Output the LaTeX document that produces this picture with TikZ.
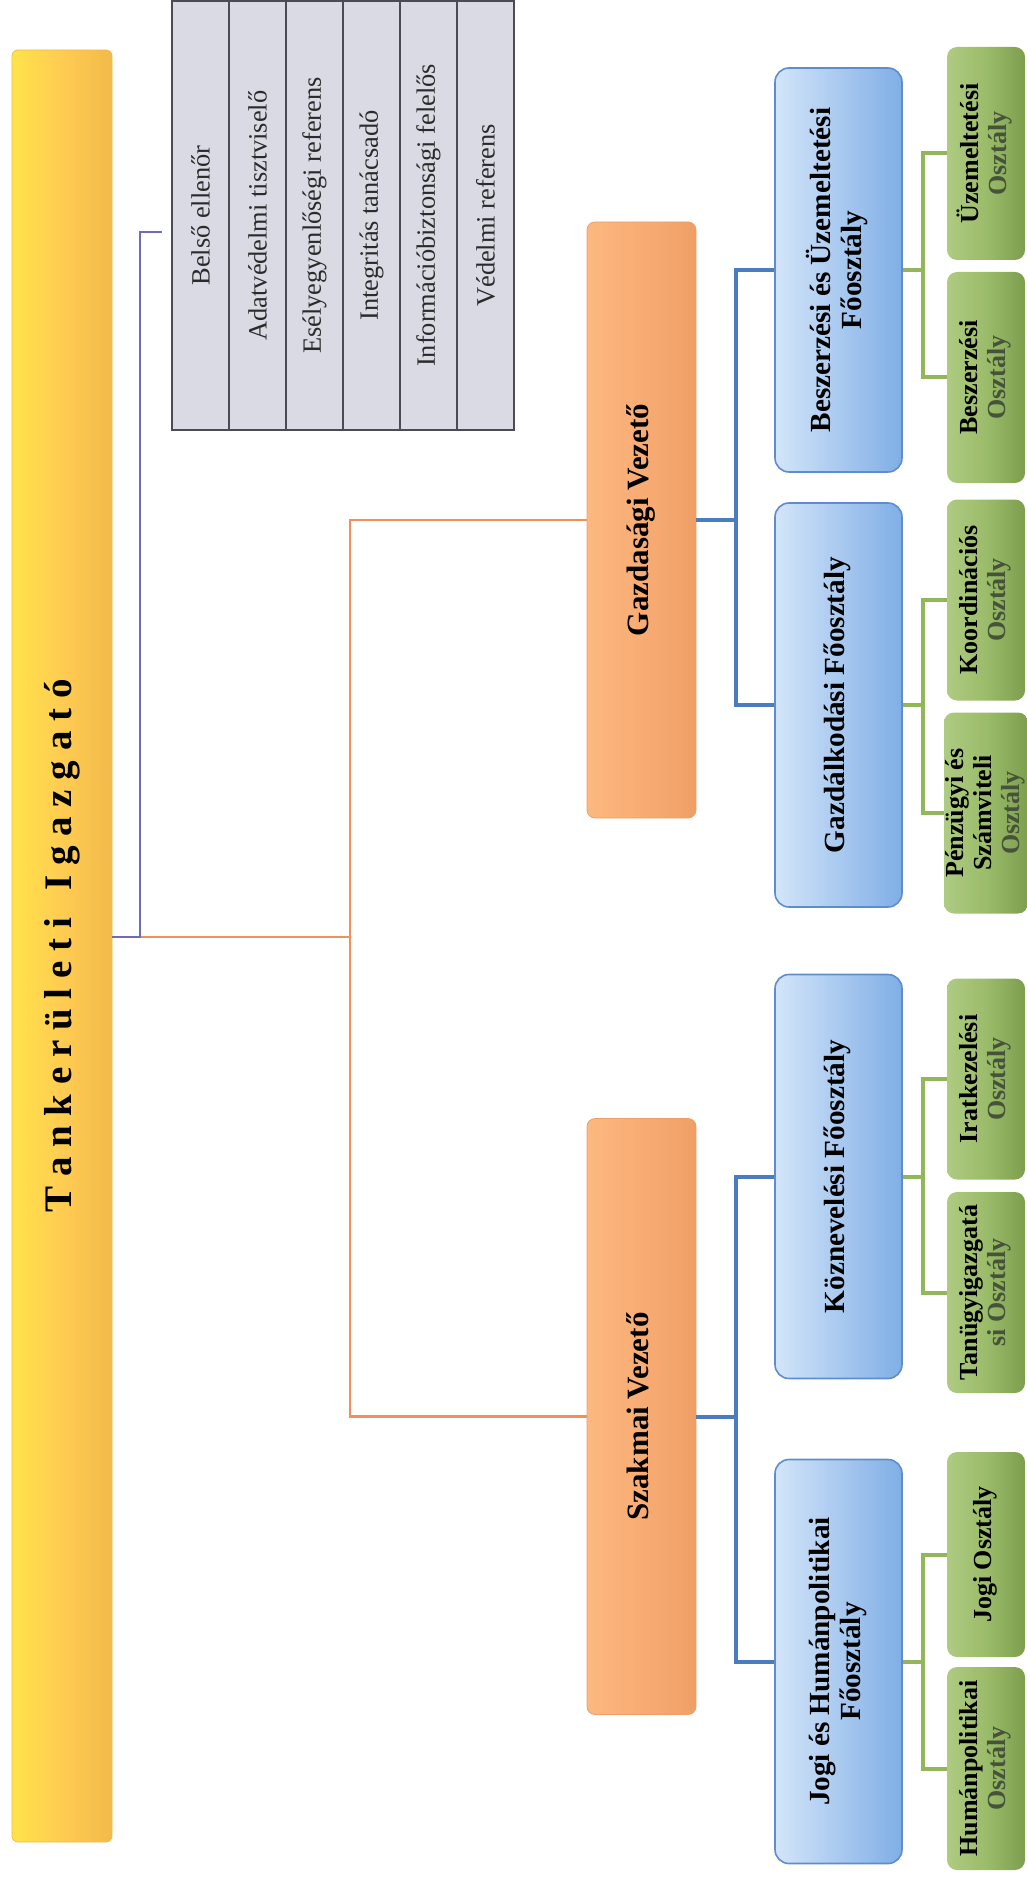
\documentclass[tikz,border=0pt]{standalone}
\usepackage{fontspec}
\setmainfont{Liberation Serif}
\usepackage{graphicx}

\definecolor{sargaBal}{HTML}{FFE34A}
\definecolor{sargaKozep}{HTML}{FFCC52}
\definecolor{sargaJobb}{HTML}{F2BA4A}
\definecolor{cellaszin}{HTML}{DADAE4}
\definecolor{cellakeret}{HTML}{4B4B58}
\definecolor{cellabetu}{HTML}{2A2A2A}
\definecolor{narancsBal}{HTML}{FCB880}
\definecolor{narancsKozep}{HTML}{F8AC73}
\definecolor{narancsJobb}{HTML}{EE9F66}
\definecolor{kekBal}{HTML}{D3E5F9}
\definecolor{kekJobb}{HTML}{80AEE6}
\definecolor{kekKeret}{HTML}{5D8DCF}
\definecolor{zoldBal}{HTML}{AECB82}
\definecolor{zoldKozep}{HTML}{9BBC6A}
\definecolor{zoldJobb}{HTML}{7D9E4C}
\definecolor{lilavonal}{HTML}{6E6CB8}
\definecolor{narancsvonal}{HTML}{F0915C}
\definecolor{kekvonal}{HTML}{4A7CC0}
\definecolor{zoldvonal}{HTML}{92B65A}
\definecolor{osztbetu}{HTML}{46523A}

\newcommand{\fuggo}[1]{\rotatebox{90}{\begin{tabular}{@{}c@{}}#1\end{tabular}}}

\begin{document}
\begin{tikzpicture}[x=0.5pt,y=0.5pt,
  every node/.style={inner sep=0pt},
  igazgatobox/.style={rounded corners=3pt, left color=sargaBal, right color=sargaJobb, middle color=sargaKozep, draw=sargaJobb, line width=0.4pt},
  cella/.style={draw=cellakeret, fill=cellaszin, line width=0.9pt, minimum width=28.5pt, minimum height=214.5pt, text=cellabetu, font=\fontsize{13.2}{15}\selectfont},
  vezeto/.style={rounded corners=4pt, left color=narancsBal, right color=narancsJobb, middle color=narancsKozep, draw=narancsJobb, line width=0.4pt, minimum width=54.5pt, minimum height=298pt, font=\fontsize{15.5}{18}\selectfont\bfseries},
  foosztaly/.style={rounded corners=7pt, left color=kekBal, right color=kekJobb, draw=kekKeret, line width=0.8pt, minimum width=63.5pt, minimum height=202pt, font=\fontsize{14.6}{15.5}\selectfont\bfseries},
  osztalybox/.style={rounded corners=5pt, left color=zoldBal, right color=zoldJobb, middle color=zoldKozep, minimum width=39pt, minimum height=100.5pt, font=\fontsize{13}{14}\selectfont\bfseries},
  lila/.style={draw=lilavonal, line width=1.3pt},
  narancs/.style={draw=narancsvonal, line width=1.3pt},
  kek/.style={draw=kekvonal, line width=2pt},
  zold/.style={draw=zoldvonal, line width=2pt}]
\useasboundingbox (0,0) rectangle (1027,-1883);

\node[igazgatobox, minimum width=50pt, minimum height=896pt, font=\fontsize{19.5}{22}\selectfont\bfseries] (igazgato) at (62,-946) {\rotatebox{90}{T a n k e r ü l e t i\hspace{0.45em} I g a z g a t ó}};

\foreach \szoveg [count=\i] in {Belső ellenőr,Adatvédelmi tisztviselő,Esélyegyenlőségi referens,Integritás tanácsadó,Információbiztonsági felelős,Védelmi referens}
  \node[cella] (g\i) at ({143.5+57*\i},-215.5) {\rotatebox{90}{\szoveg}};

\node[vezeto] (gazd) at (641.5,-520) {\fuggo{Gazdasági Vezető}};
\node[vezeto] (szakm) at (641.5,-1416.5) {\fuggo{Szakmai Vezető}};

\node[foosztaly] (beszfo) at (838.5,-270) {\fuggo{Beszerzési és Üzemeltetési\\Főosztály}};
\node[foosztaly] (gazdfo) at (838.5,-705) {\fuggo{Gazdálkodási Főosztály}};
\node[foosztaly] (koznfo) at (838.5,-1176.5) {\fuggo{Köznevelési Főosztály}};
\node[foosztaly] (jogifo) at (838.5,-1661.5) {\fuggo{Jogi és Humánpolitikai\\Főosztály}};

\node[osztalybox, minimum height=106.5pt] (uzem) at (986,-153.5) {\fuggo{Üzemeltetési\\\color{osztbetu}Osztály}};
\node[osztalybox, minimum height=105.5pt] (beszo) at (986,-377.5) {\fuggo{Beszerzési\\\color{osztbetu}Osztály}};
\node[osztalybox] (koord) at (986,-600) {\fuggo{Koordinációs\\\color{osztbetu}Osztály}};
\node[osztalybox] (penz) at (986,-813) {\fuggo{Pénzügyi és\\Számviteli\\\color{osztbetu}Osztály}};
\node[osztalybox] (irat) at (986,-1079) {\fuggo{Iratkezelési\\\color{osztbetu}Osztály}};
\node[osztalybox] (tanugy) at (986,-1292.5) {\fuggo{Tanügyigazgatá\\\color{osztbetu}si Osztály}};
\node[osztalybox, minimum height=102.5pt] (jogio) at (986,-1554.5) {\fuggo{Jogi Osztály}};
\node[osztalybox, minimum height=101.5pt] (human) at (986,-1768.5) {\fuggo{Humánpolitikai\\\color{osztbetu}Osztály}};

\coordinate (tor) at (140,-937);
\coordinate (belso) at (162,-232);
\coordinate (gerinc) at (350,-937);

\draw[narancs] (tor) -- (gerinc);
\draw[narancs] (gazd.west) -| (gerinc) |- (szakm.west);
\draw[lila] (igazgato.east |- tor) -- (tor) |- (belso);

\draw[kek] (gazd.east) -- ++(20pt,0);
\draw[kek] (beszfo.west) -| ([xshift=20pt]gazd.east) |- (gazdfo.west);
\draw[kek] (szakm.east) -- ++(20pt,0);
\draw[kek] (koznfo.west) -| ([xshift=20pt]szakm.east) |- (jogifo.west);

\draw[zold] (beszfo.east) -- ++(10pt,0);
\draw[zold] (uzem.west) -| ([xshift=10pt]beszfo.east) |- (beszo.west);
\draw[zold] (gazdfo.east) -- ++(10pt,0);
\draw[zold] (koord.west) -| ([xshift=10pt]gazdfo.east) |- (penz.west);
\draw[zold] (koznfo.east) -- ++(10pt,0);
\draw[zold] (irat.west) -| ([xshift=10pt]koznfo.east) |- (tanugy.west);
\draw[zold] (jogifo.east) -- ++(10pt,0);
\draw[zold] (jogio.west) -| ([xshift=10pt]jogifo.east) |- (human.west);
\end{tikzpicture}
\end{document}
